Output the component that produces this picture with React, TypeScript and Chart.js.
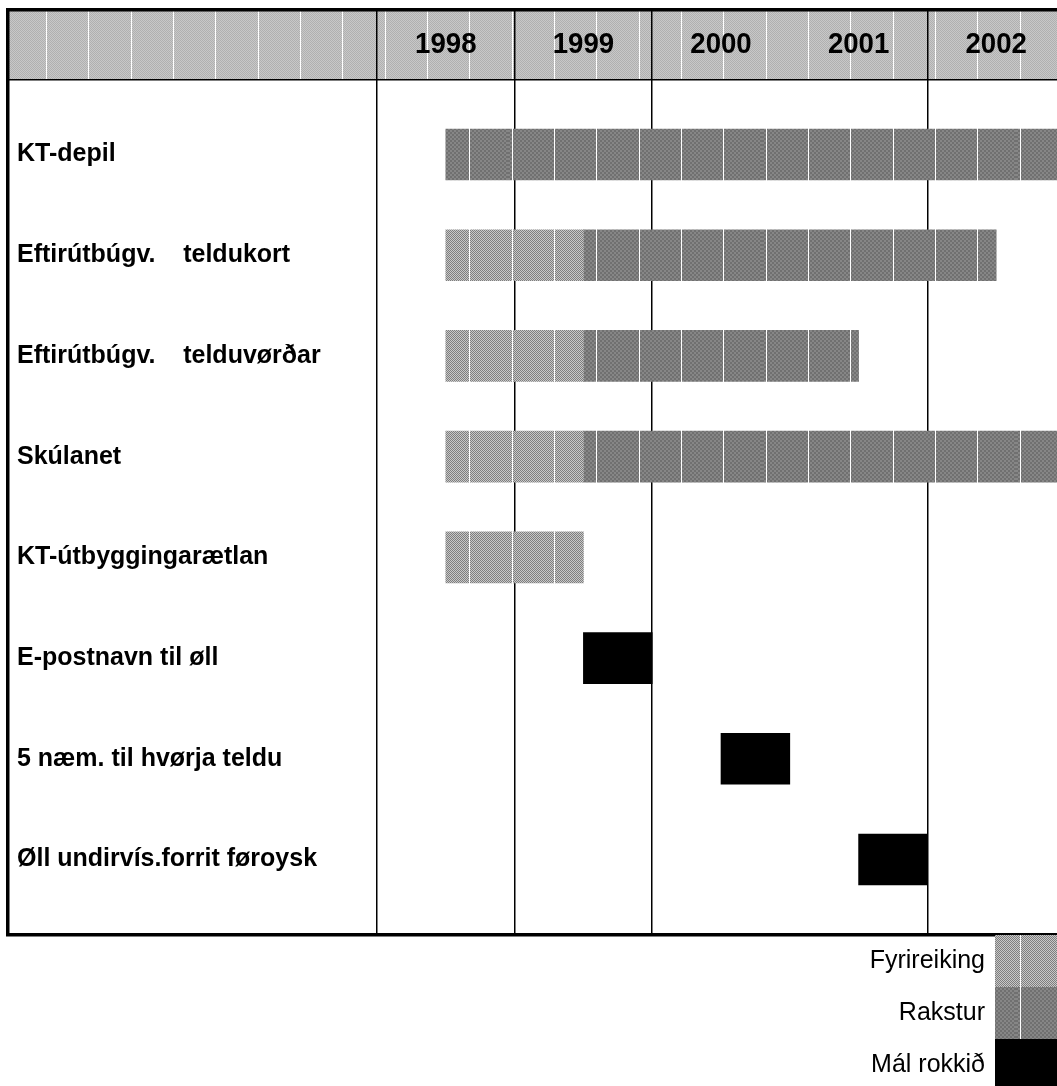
import React, { useEffect, useRef } from 'react';
import { Chart, registerables } from 'chart.js';

Chart.register(...registerables);

// ---- data ----
const tasks = [
  'KT-depil',
  'Eftirútbúgv.    teldukort',
  'Eftirútbúgv.    telduvørðar',
  'Skúlanet',
  'KT-útbyggingarætlan',
  'E-postnavn til øll',
  '5 næm. til hvørja teldu',
  'Øll undirvís.forrit føroysk',
];
const years = [1998, 1999, 2000, 2001, 2002];
const gridYears = [1998, 1999, 2000, 2002];
const seriesLabels = ['Fyrireiking', 'Rakstur', 'Mál rokkið'];

const prepStart = [null, 1998.5, 1998.5, 1998.5, 1998.5, null, null, null];
const prepEnd = [null, 1999.5, 1999.5, 1999.5, 1999.5, null, null, null];
const runStart = [1998.5, 1999.5, 1999.5, 1999.5, null, null, null, null];
const runEnd = [2003, 2002.5, 2001.5, 2003, null, null, null, null];
const doneStart = [null, null, null, null, null, 1999.5, 2000.5, 2001.5];
const doneEnd = [null, null, null, null, null, 2000, 2001, 2002];

const FONT = '"Liberation Sans", Arial, Helvetica, sans-serif';

function toPoints(s: (number | null)[], e: (number | null)[]) {
  const out: any[] = [];
  s.forEach((v, i) => {
    if (v != null && e[i] != null) out.push({ x: [v, e[i]], y: i });
  });
  return out;
}

function makePattern(c1: string, c2: string, cell: number, lines: boolean) {
  const W = 254;
  const H = cell * 2;
  const off = document.createElement('canvas');
  off.width = W;
  off.height = H;
  const o = off.getContext('2d')!;
  o.fillStyle = c1;
  o.fillRect(0, 0, W, H);
  o.fillStyle = c2;
  for (let y = 0; y < H; y += cell) {
    for (let x = 0; x < W; x += cell) {
      if (((x / cell) + (y / cell)) % 2 === 1) o.fillRect(x, y, cell, cell);
    }
  }
  if (lines) {
    o.fillStyle = '#ffffff';
    [4, 46, 88, 131, 173, 215].forEach((lx) => o.fillRect(lx, 0, 1, H));
  }
  return o.createPattern(off, 'repeat')!;
}

export default function App() {
  const ref = useRef<HTMLCanvasElement>(null);

  useEffect(() => {
    const canvas = ref.current!;
    const prepPat = makePattern('#7e7e7e', '#c8c8c8', 1, true);
    const runPat = makePattern('#707070', '#868686', 2, true);
    const headPat = makePattern('#b0b0b0', '#c8c8c8', 1, true);

    const framePlugin = {
      id: 'frame',
      beforeDraw(chart: any) {
        const ctx = chart.ctx;
        ctx.save();
        ctx.fillStyle = headPat;
        ctx.fillRect(9, 11, chart.width, 69);
        ctx.restore();
      },
      afterDraw(chart: any) {
        const ctx = chart.ctx;
        const xs = chart.scales.x;
        ctx.save();
        // header bottom line
        ctx.fillStyle = '#000';
        ctx.fillRect(9, 79, chart.width, 1.5);
        // year labels
        ctx.fillStyle = '#000';
        ctx.font = `bold 30px ${FONT}`;
        ctx.textAlign = 'center';
        ctx.textBaseline = 'middle';
        years.forEach((yr) => {
          const px = xs.getPixelForValue(yr + 0.5);
          ctx.save();
          ctx.translate(px, 45);
          ctx.scale(0.92, 1);
          ctx.fillText(String(yr), 0, 0);
          ctx.restore();
        });
        // outer frame
        ctx.strokeStyle = '#000';
        ctx.lineWidth = 3.5;
        ctx.strokeRect(7.75, 9.75, chart.width, 925);
        // legend
        const boxX = 995;
        const top0 = 935;
        const rowH = 52;
        ctx.font = `25px ${FONT}`;
        ctx.textAlign = 'right';
        ctx.textBaseline = 'middle';
        chart.data.datasets.forEach((ds: any, i: number) => {
          const y0 = top0 + i * rowH;
          ctx.fillStyle = ds.backgroundColor;
          ctx.fillRect(boxX, y0, chart.width - boxX, rowH);
          ctx.fillStyle = '#000';
          ctx.fillText(ds.label, 985, y0 + rowH / 2);
        });
        ctx.restore();
      },
    };

    const chart = new Chart(canvas, {
      type: 'bar',
      data: {
        datasets: [
          { label: seriesLabels[0], data: toPoints(prepStart, prepEnd), backgroundColor: prepPat as any, grouped: false, barThickness: 51, borderWidth: 0 },
          { label: seriesLabels[1], data: toPoints(runStart, runEnd), backgroundColor: runPat as any, grouped: false, barThickness: 51, borderWidth: 0 },
          { label: seriesLabels[2], data: toPoints(doneStart, doneEnd), backgroundColor: '#000000', grouped: false, barThickness: 51, borderWidth: 0 },
        ] as any,
      },
      options: {
        indexAxis: 'y',
        responsive: false,
        animation: false,
        events: [],
        layout: { padding: { left: 17, right: 5, top: 11, bottom: 153 } },
        plugins: { legend: { display: false }, tooltip: { enabled: false } },
        scales: {
          x: {
            type: 'linear',
            position: 'top',
            min: 1998,
            max: 2003,
            z: 1,
            offset: false,
            afterBuildTicks: (s: any) => {
              s.ticks = gridYears.map((v) => ({ value: v }));
            },
            afterFit: (s: any) => {
              s.height = 69;
            },
            ticks: { display: false },
            grid: { color: '#000', lineWidth: 1.5, drawTicks: true, tickLength: 69, offset: false },
            border: { display: false },
          },
          y: {
            type: 'linear',
            reverse: true,
            offset: false,
            min: -0.74,
            max: 7.73,
            afterBuildTicks: (s: any) => {
              s.ticks = tasks.map((_, i) => ({ value: i }));
            },
            afterFit: (s: any) => {
              s.width = 360;
            },
            ticks: {
              crossAlign: 'far',
              padding: 0,
              autoSkip: false,
              color: '#000',
              font: { family: FONT, size: 25, weight: 'bold' },
              callback: (v: any) => tasks[v] ?? '',
            },
            grid: { display: false, offset: false },
            border: { display: false },
          },
        },
      } as any,
      plugins: [framePlugin],
    });
    return () => chart.destroy();
  }, []);

  return (
    <div style={{ position: 'absolute', left: 0, top: 0, width: 1057, height: 1086, overflow: 'hidden', background: '#fff' }}>
      <canvas ref={ref} width={1070} height={1086} style={{ display: 'block' }} />
    </div>
  );
}
